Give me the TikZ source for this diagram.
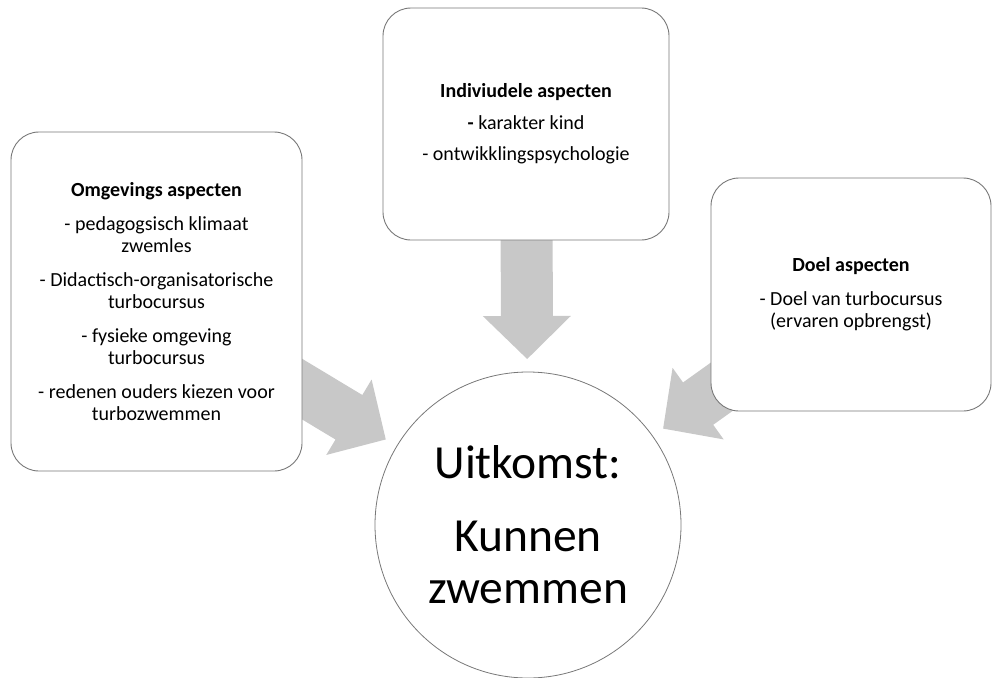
\documentclass[tikz,border=0pt]{standalone}
\usepackage{fontspec}
\setmainfont{Carlito}
\usetikzlibrary{calc,backgrounds}
\definecolor{pijlgrijs}{RGB}{200,200,200}
\definecolor{randgrijs}{RGB}{120,120,120}
\begin{document}
\begin{tikzpicture}[x=1pt,y=-1pt,
    vak/.style={draw=randgrijs,line width=0.9pt,fill=white,rounded corners=28pt,
      align=center,inner sep=0pt,font=\fontsize{20}{22}\selectfont},
    uitkomst/.style={circle,draw=randgrijs,line width=0.8pt,fill=white,inner sep=0pt,
      minimum size=306pt,align=center,font=\fontsize{47.5}{52}\selectfont}]
  \useasboundingbox (0,0) rectangle (992,677);
  \node[vak,minimum width=291pt,minimum height=339pt] (omg) at (156.5,301.5)
    {\textbf{Omgevings aspecten}\\[12pt]- pedagogsisch klimaat\\zwemles\\[12pt]
     - Didactisch-organisatorische\\turbocursus\\[12pt]- fysieke omgeving\\turbocursus\\[12pt]
     - redenen ouders kiezen voor\\turbozwemmen};
  \node[vak,minimum width=286pt,minimum height=232pt] (ind) at (526,124)
    {\textbf{Indiviudele aspecten}\\[10pt]\textbf{-} karakter kind\\[9pt]- ontwikklingspsychologie};
  \node[vak,minimum width=280pt,minimum height=233pt] (doel) at (851,294.5)
    {\textbf{Doel aspecten}\\[12pt]- Doel van turbocursus\\(ervaren opbrengst)};
  \node[uitkomst] (uit) at (528,525) {Uitkomst:\\[21pt]Kunnen\\zwemmen};
  % block arrows from each box to the circle
  \begin{scope}[on background layer]
    \foreach \b in {omg,ind,doel}{
      \coordinate (\b-tip) at ($(uit.center)!166pt!(\b.center)$);
      \coordinate (\b-voet) at ($(\b-tip)!43pt!(\b.center)$);
      \fill[pijlgrijs] ($(\b.center)!26pt!90:(\b-tip)$) -- ($(\b-voet)!26pt!90:(\b-tip)$)
        -- ($(\b-voet)!44pt!90:(\b-tip)$) -- (\b-tip) -- ($(\b-voet)!44pt!-90:(\b-tip)$)
        -- ($(\b-voet)!26pt!-90:(\b-tip)$) -- ($(\b.center)!26pt!-90:(\b-tip)$) -- cycle;
    }
  \end{scope}
\end{tikzpicture}
\end{document}
